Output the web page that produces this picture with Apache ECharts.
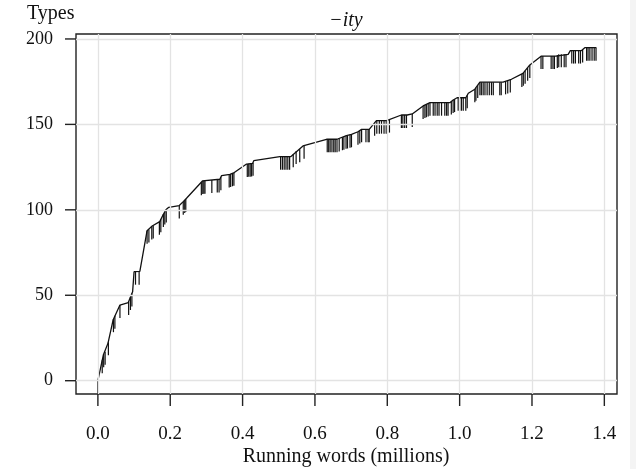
<!DOCTYPE html>
<html><head><meta charset="utf-8">
<script src="https://cdn.jsdelivr.net/npm/echarts@6/dist/echarts.min.js"></script>
<style>html,body{margin:0;padding:0;background:#fff}#c{width:636px;height:469px}</style>
</head><body><div id="c"></div>
<script>
const xTicks = [0, 0.2, 0.4, 0.6, 0.8, 1.0, 1.2, 1.4];
const yTicks = [0, 50, 100, 150, 200];
// growth curve: [running words (millions), types]
const curve = [[0,0],[0.015,15],[0.028,22],[0.042,35.5],[0.061,44.3],[0.084,45.7],[0.096,52],[0.1,63.8],[0.116,64],[0.136,87.8],[0.15,90.5],[0.171,93.1],[0.18,97],[0.188,100],[0.196,101.5],[0.225,102.5],[0.236,104.8],[0.245,106.8],[0.289,116.9],[0.337,117.9],[0.342,120],[0.365,120.8],[0.377,121.8],[0.411,126.8],[0.428,127.2],[0.431,128.8],[0.503,131.1],[0.533,131.1],[0.567,137.4],[0.632,141.3],[0.661,141.3],[0.687,143.4],[0.701,144.2],[0.719,145.7],[0.729,147.1],[0.75,147.1],[0.77,152.2],[0.798,152.2],[0.839,155.5],[0.855,155.5],[0.869,156.1],[0.899,160.8],[0.918,162.7],[0.973,162.7],[0.982,164.3],[0.993,165.6],[1.017,165.6],[1.024,168.2],[1.042,170.6],[1.056,174.7],[1.12,174.7],[1.143,176.4],[1.175,179.9],[1.194,184.8],[1.226,190],[1.267,190],[1.272,191],[1.3,191],[1.306,193.2],[1.337,193.2],[1.346,194.9],[1.378,194.9]];
// hanging marks: [running words (millions), types at top of mark]
const marks = [[0,0],[0.012,12],[0.016,15.5],[0.02,17],[0.029,22.5],[0.043,36],[0.047,38],[0.061,44.3],[0.085,46],[0.09,49],[0.094,51],[0.104,63.8],[0.114,63.8],[0.136,87.8],[0.141,88.5],[0.149,90.3],[0.153,90.8],[0.17,93],[0.174,94.5],[0.181,97.5],[0.185,99],[0.189,100.2],[0.225,102.5],[0.236,104.8],[0.24,105.8],[0.243,106.4],[0.286,116.2],[0.29,116.9],[0.293,117],[0.296,117],[0.315,117.4],[0.33,117.7],[0.335,117.8],[0.34,119],[0.363,120.7],[0.367,120.9],[0.372,121.4],[0.376,121.7],[0.413,126.8],[0.417,126.9],[0.421,127],[0.425,127.1],[0.429,127.5],[0.505,131.1],[0.51,131.1],[0.515,131.1],[0.52,131.1],[0.525,131.1],[0.53,131.1],[0.54,132.6],[0.548,134.5],[0.558,135.4],[0.57,137.5],[0.634,141.3],[0.638,141.3],[0.642,141.3],[0.647,141.3],[0.652,141.3],[0.656,141.3],[0.661,141.3],[0.667,141.8],[0.676,142.5],[0.68,142.8],[0.686,143.3],[0.69,143.5],[0.697,144],[0.701,144.2],[0.719,145.7],[0.724,146.4],[0.729,147.1],[0.741,147.1],[0.747,147.1],[0.75,147.1],[0.765,151],[0.771,152.2],[0.778,152.2],[0.784,152.2],[0.791,152.2],[0.797,152.2],[0.806,152.8],[0.839,155.5],[0.843,155.5],[0.848,155.5],[0.853,155.5],[0.869,156.1],[0.899,160.8],[0.904,161.3],[0.908,161.8],[0.913,162.2],[0.918,162.7],[0.927,162.7],[0.932,162.7],[0.938,162.7],[0.943,162.7],[0.95,162.7],[0.959,162.7],[0.964,162.7],[0.968,162.7],[0.977,163.4],[0.982,164.3],[0.986,164.8],[0.996,165.6],[1.0,165.6],[1.005,165.6],[1.01,165.6],[1.017,165.6],[1.021,167],[1.042,170.6],[1.045,171.5],[1.05,173],[1.056,174.7],[1.06,174.7],[1.065,174.7],[1.07,174.7],[1.076,174.7],[1.082,174.7],[1.088,174.7],[1.093,174.7],[1.111,174.7],[1.115,174.7],[1.127,175.2],[1.133,175.7],[1.14,176.2],[1.172,179.5],[1.176,180.2],[1.181,181.4],[1.188,183.2],[1.194,184.8],[1.225,190],[1.23,190],[1.253,190],[1.258,190],[1.262,190],[1.27,190.6],[1.274,191],[1.281,191],[1.289,191],[1.294,191],[1.31,193.2],[1.315,193.2],[1.32,193.2],[1.329,193.2],[1.334,193.2],[1.34,193.8],[1.351,194.9],[1.355,194.9],[1.36,194.9],[1.366,194.9],[1.372,194.9],[1.377,194.9]];

const FONT = 'Liberation Serif';
const chart = echarts.init(document.getElementById('c'), null, {renderer: 'canvas'});
const markLen = 13;
chart.setOption({
  animation: false,
  backgroundColor: '#fff',
  grid: {left: 76, right: 19, top: 34, bottom: 75, show: true, borderColor: '#222', borderWidth: 1.4, containLabel: false, outerBoundsMode: 'none'},
  xAxis: {
    type: 'value', min: -0.0605, max: 1.435,
    axisLine: {show: false},
    splitLine: {show: false},
    axisTick: {show: false},
    axisLabel: {show: true, customValues: xTicks, margin: 31, fontFamily: FONT, fontSize: 19, color: '#111', formatter: v => v.toFixed(1)}
  },
  yAxis: {
    type: 'value', min: -7.78, max: 202.9,
    axisLine: {show: false},
    splitLine: {show: false},
    axisTick: {show: false},
    axisLabel: {show: true, customValues: yTicks, margin: 23, fontFamily: FONT, fontSize: 18, color: '#111'}
  },
  graphic: [
    {type: 'rect', shape: {x: 630, y: 0, width: 6, height: 469}, style: {fill: '#f4f4f4'}, z: -10},
    {type: 'text', left: 27, top: 4, style: {text: 'Types', font: '20px "Liberation Serif"', fill: '#111'}},
    {type: 'text', x: 346, y: 31, style: {text: '\u2212ity', font: 'italic 20px "Liberation Serif"', fill: '#111', textAlign: 'center', textVerticalAlign: 'bottom'}},
    {type: 'text', x: 346, y: 467, style: {text: 'Running words (millions)', font: '20px "Liberation Serif"', fill: '#111', textAlign: 'center', textVerticalAlign: 'bottom'}}
  ],
  series: [
    {
      type: 'line', data: [], z: 1, silent: true,
      markLine: {
        silent: true, symbol: 'none', label: {show: false},
        lineStyle: {color: '#e3e3e3', width: 1.3, type: 'solid'},
        data: xTicks.map(v => ({xAxis: v})).concat(yTicks.map(v => ({yAxis: v})))
      }
    },
    {
      type: 'custom', z: 5, silent: true, clip: false,
      data: xTicks,
      renderItem: function (params, api) {
        const cs = params.coordSys;
        const px = api.coord([api.value(0), 0])[0];
        const y0 = cs.y + cs.height;
        return {type: 'line', shape: {x1: px, y1: y0, x2: px, y2: y0 + 12}, style: {stroke: '#222', lineWidth: 1.4}};
      }
    },
    {
      type: 'custom', z: 5, silent: true, clip: false,
      data: yTicks.map(v => [0, v]),
      renderItem: function (params, api) {
        const cs = params.coordSys;
        const py = api.coord([0, api.value(1)])[1];
        return {type: 'line', shape: {x1: cs.x, y1: py, x2: cs.x - 11, y2: py}, style: {stroke: '#222', lineWidth: 1.4}};
      }
    },
    {
      type: 'custom', z: 3, silent: true,
      data: marks,
      renderItem: function (params, api) {
        const p = api.coord([api.value(0), api.value(1)]);
        return {type: 'line', shape: {x1: p[0], y1: p[1], x2: p[0], y2: p[1] + markLen}, style: {stroke: '#111', lineWidth: 1.2}};
      }
    },
    {
      type: 'line', z: 4, data: curve, symbol: 'none', silent: true,
      lineStyle: {color: '#111', width: 1.3}
    }
  ]
});
</script>
</body></html>
